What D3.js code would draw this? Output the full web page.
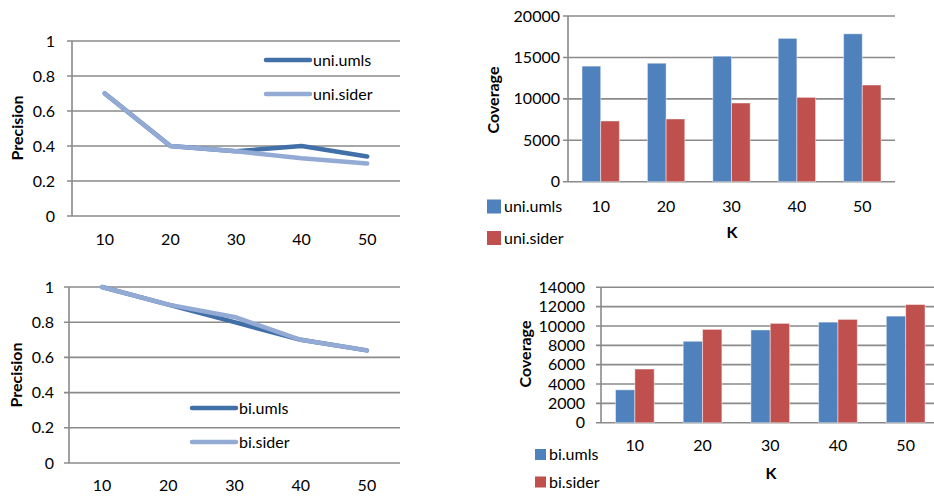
<!DOCTYPE html>
<html>
<head>
<meta charset="utf-8">
<script src="https://cdn.jsdelivr.net/npm/d3@7"></script>
<style>
  body { margin: 0; background: #fff; }
  text { font-family: Lato, "Open Sans", sans-serif; fill: #000; }
</style>
</head>
<body>
<svg width="934" height="496"></svg>
<script>
var kValues = ["10", "20", "30", "40", "50"];

var uniUmlsPrecision = [0.70, 0.40, 0.37, 0.40, 0.34];
var uniSiderPrecision = [0.70, 0.40, 0.37, 0.33, 0.30];
var biUmlsPrecision = [1.00, 0.90, 0.80, 0.70, 0.64];
var biSiderPrecision = [1.00, 0.90, 0.83, 0.70, 0.64];

var uniUmlsCoverage = [13950, 14300, 15150, 17300, 17850];
var uniSiderCoverage = [7330, 7570, 9500, 10180, 11670];
var biUmlsCoverage = [3400, 8420, 9590, 10400, 11020];
var biSiderCoverage = [5550, 9650, 10270, 10680, 12220];

var precisionTicks = [0, 0.2, 0.4, 0.6, 0.8, 1];
var uniCoverageTicks = [0, 5000, 10000, 15000, 20000];
var biCoverageTicks = [0, 2000, 4000, 6000, 8000, 10000, 12000, 14000];

var darkLine = "#4170a9", lightLine = "#93aad4";
var blueBar = "#4f81bd", redBar = "#c0504d";
var gridColor = "#8a8a8a";

var svg = d3.select("svg");

// frame shared by both kinds of panel: gridlines, axes, tick labels
function drawFrame(p, ticks, yMax)
{
  var x = d3.scaleBand().domain(kValues).range([p.left, p.right]);
  var y = d3.scaleLinear().domain([0, yMax]).range([p.bottom, p.top]);
  var g = svg.append("g");

  g.selectAll("line.grid")
   .data(ticks)
   .enter()
   .append("line")
   .attr("x1", p.left - 5)
   .attr("x2", p.right)
   .attr("y1", function(d) { return y(d); })
   .attr("y2", function(d) { return y(d); })
   .attr("stroke", gridColor)
   .attr("stroke-width", 1.6);

  g.append("line")
   .attr("x1", p.left).attr("x2", p.left)
   .attr("y1", p.top).attr("y2", p.bottom)
   .attr("stroke", gridColor)
   .attr("stroke-width", 1.6);

  g.selectAll("text.ytick")
   .data(ticks)
   .enter()
   .append("text")
   .text(function(d) { return d; })
   .attr("x", p.labelRight)
   .attr("y", function(d) { return y(d); })
   .attr("dy", "0.35em")
   .style("text-anchor", "end")
   .style("font-size", "16px");

  g.selectAll("text.xtick")
   .data(kValues)
   .enter()
   .append("text")
   .text(function(d) { return d; })
   .attr("x", function(d) { return x(d) + x.bandwidth() / 2; })
   .attr("y", p.xLabelY)
   .attr("dy", "0.35em")
   .style("text-anchor", "middle")
   .style("font-size", "16px");

  g.append("text")
   .text(p.yTitle)
   .attr("transform", "translate(" + p.yTitleX + "," + p.yTitleY + ") rotate(-90)")
   .attr("dy", "0.35em")
   .style("text-anchor", "middle")
   .style("font-weight", "bold")
   .style("font-size", "16px");

  if (p.xTitle)
  {
    g.append("text")
     .text(p.xTitle)
     .attr("x", p.xTitleX)
     .attr("y", p.xTitleY)
     .attr("dy", "0.35em")
     .style("text-anchor", "middle")
     .style("font-weight", "bold")
     .style("font-size", "16px");
  }
  return { x: x, y: y, g: g };
}

var drawLines = function(p, series, names)
{
  var f = drawFrame(p, precisionTicks, 1);
  var colors = [darkLine, lightLine];
  var line = d3.line()
               .x(function(d, i) { return f.x(kValues[i]) + f.x.bandwidth() / 2; })
               .y(function(d) { return f.y(d); });

  series.forEach(function(s, i)
  {
    f.g.append("path")
       .attr("d", line(s))
       .attr("fill", "none")
       .attr("stroke", colors[i])
       .attr("stroke-width", 4.5)
       .attr("stroke-linejoin", "round")
       .attr("stroke-linecap", "round");
  });

  /*legend*/
  names.forEach(function(n, i)
  {
    var ly = p.legendY[i];
    f.g.append("line")
       .attr("x1", p.legendX).attr("x2", p.legendX + 44)
       .attr("y1", ly).attr("y2", ly)
       .attr("stroke", colors[i])
       .attr("stroke-width", 4.5)
       .attr("stroke-linecap", "round");
    f.g.append("text")
       .text(n)
       .attr("x", p.legendX + 47)
       .attr("y", ly)
       .attr("dy", "0.35em")
       .style("font-size", "16px");
  });
}

var drawBars = function(p, series, names, ticks, yMax)
{
  var f = drawFrame(p, ticks, yMax);
  var colors = [blueBar, redBar];
  var bw = f.x.bandwidth() / 3.5;

  series.forEach(function(s, i)
  {
    f.g.selectAll("rect.s" + i)
       .data(s)
       .enter()
       .append("rect")
       .attr("x", function(d, j) { return f.x(kValues[j]) + 0.75 * bw + i * bw; })
       .attr("y", function(d) { return f.y(d); })
       .attr("width", bw)
       .attr("height", function(d) { return p.bottom - f.y(d); })
       .attr("fill", colors[i])
       .attr("stroke", "#ffffff")
       .attr("stroke-opacity", 0.45)
       .attr("stroke-width", 1);
  });

  /*legend*/
  names.forEach(function(n, i)
  {
    var ly = p.legendY[i];
    f.g.append("rect")
       .attr("x", p.legendX)
       .attr("y", ly - p.legendSize / 2)
       .attr("width", p.legendSize)
       .attr("height", p.legendSize)
       .attr("fill", colors[i]);
    f.g.append("text")
       .text(n)
       .attr("x", p.legendX + p.legendSize + 3)
       .attr("y", ly)
       .attr("dy", "0.35em")
       .style("font-size", "16px");
  });
}

drawLines({ left: 72, right: 400, top: 41, bottom: 216, labelRight: 55, xLabelY: 239,
            yTitle: "Precision", yTitleX: 17, yTitleY: 128,
            legendX: 266, legendY: [60, 94] },
          [uniUmlsPrecision, uniSiderPrecision], ["uni.umls", "uni.sider"]);

drawLines({ left: 69, right: 400, top: 287, bottom: 463, labelRight: 54, xLabelY: 485.5,
            yTitle: "Precision", yTitleX: 16, yTitleY: 375,
            legendX: 192, legendY: [408, 442] },
          [biUmlsPrecision, biSiderPrecision], ["bi.umls", "bi.sider"]);

drawBars({ left: 568, right: 895, top: 16, bottom: 181.7, labelRight: 560, xLabelY: 206,
           yTitle: "Coverage", yTitleX: 493, yTitleY: 100,
           xTitle: "K", xTitleX: 732, xTitleY: 232,
           legendX: 487, legendY: [206.5, 238], legendSize: 14 },
         [uniUmlsCoverage, uniSiderCoverage], ["uni.umls", "uni.sider"], uniCoverageTicks, 20000);

drawBars({ left: 601, right: 939.5, top: 287.3, bottom: 422.7, labelRight: 585, xLabelY: 445,
           yTitle: "Coverage", yTitleX: 525, yTitleY: 354,
           xTitle: "K", xTitleX: 771, xTitleY: 473,
           legendX: 535, legendY: [454.5, 482], legendSize: 11 },
         [biUmlsCoverage, biSiderCoverage], ["bi.umls", "bi.sider"], biCoverageTicks, 14000);
</script>
</body>
</html>
